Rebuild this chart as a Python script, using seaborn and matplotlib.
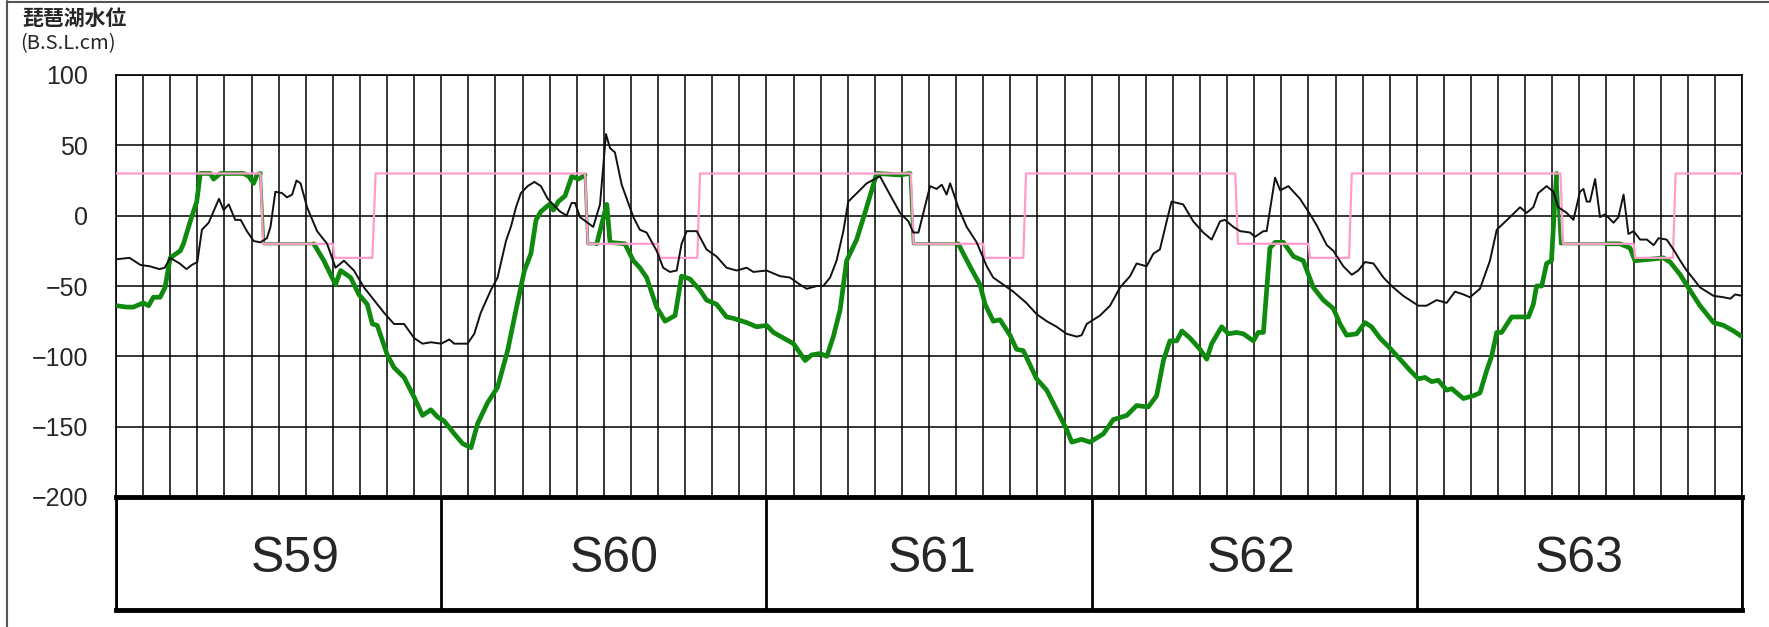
import numpy as np
import pandas as pd
import matplotlib.pyplot as plt
import seaborn as sns
from matplotlib.lines import Line2D

# years shown in the band under the chart (Showa 59-63), 12 months each
years = ["S59", "S60", "S61", "S62", "S63"]
year_label_shift = [0.6, 0.4, 0.1, -0.1, 0.0]
ytick_values = [100, 50, 0, -50, -100, -150, -200]

# thin black line (month position from Jan S59, level in cm)
black_month = [0.0, 0.5, 0.9, 1.25, 1.6, 1.8, 2.0, 2.35, 2.6, 2.8, 3.0, 3.17, 3.42, 3.6, 3.8, 3.97,
               4.16, 4.4, 4.6, 4.83, 5.08, 5.33, 5.57, 5.7, 5.88, 6.13, 6.31, 6.5, 6.66, 6.81, 7.05,
               7.42, 7.79, 8.1, 8.41, 8.78, 9.15, 9.52, 9.89, 10.26, 10.63, 11.0, 11.31, 11.62, 12.0,
               12.3, 12.48, 12.97, 13.22, 13.46, 13.83, 14.08, 14.39, 14.57, 14.76, 14.94, 15.19,
               15.44, 15.68, 15.93, 16.38, 16.63, 16.81, 16.94, 17.12, 17.61, 17.86, 18.08, 18.23,
               18.41, 18.66, 19.09, 19.33, 19.58, 19.95, 20.19, 20.44, 20.69, 20.87, 21.06, 21.43,
               21.79, 22.16, 22.53, 22.9, 23.27, 23.52, 24.01, 24.5, 24.87, 25.24, 25.49, 25.86,
               26.1, 26.35, 26.59, 26.84, 27.02, 27.39, 27.7, 28.19, 28.5, 28.93, 29.24, 29.42,
               29.61, 30.04, 30.28, 30.47, 30.65, 30.78, 31.08, 31.39, 31.76, 32.13, 32.37, 32.74,
               33.11, 33.59, 33.97, 34.34, 34.71, 35.08, 35.45, 35.63, 35.82, 36.31, 36.68, 37.05,
               37.42, 37.66, 38.03, 38.28, 38.52, 38.77, 38.95, 39.38, 39.75, 40.12, 40.43, 40.74,
               40.92, 41.23, 41.48, 41.85, 42.03, 42.34, 42.46, 42.77, 42.96, 43.26, 43.69, 44.06,
               44.31, 44.68, 44.92, 45.29, 45.6, 45.84, 46.09, 46.4, 46.77, 47.07, 47.5, 48.06,
               48.36, 48.73, 49.1, 49.41, 49.72, 49.96, 50.33, 50.7, 50.95, 51.44, 51.81, 52.05,
               52.3, 52.48, 52.79, 53.04, 53.22, 53.53, 53.78, 54.02, 54.15, 54.27, 54.39, 54.58,
               54.76, 54.95, 55.26, 55.44, 55.63, 55.81, 56.0, 56.24, 56.49, 56.74, 56.92, 57.22,
               57.47, 57.72, 57.96, 58.21, 58.45, 58.95, 59.32, 59.57, 59.75, 60.0]
black_level = [-31, -30, -35, -36, -38, -37, -30, -34, -38, -35, -33, -10, -5, 3, 12, 4,
               8, -3, -3, -11, -18, -19, -16, -8, 17, 16, 13, 15, 25, 23, 6,
               -11, -20, -37, -32, -39, -51, -60, -69, -77, -77, -87, -91, -90, -91,
               -88, -91, -91, -84, -69, -53, -44, -18, -8, 6, 16, 21,
               24, 21, 12, 3, 0, 9, 9, -1, -8, 8, 58, 48,
               45, 22, -1, -10, -12, -25, -37, -40, -39, -20, -11, -11,
               -24, -29, -37, -39, -37, -40, -39, -43, -44, -49, -52, -50,
               -50, -44, -32, -11, 10, 17, 23, 28, 17, 2, -4, -12,
               -12, 21, 19, 22, 15, 23, 6, -8, -19, -36, -44, -49,
               -54, -62, -70, -75, -79, -84, -86, -85, -77, -71, -64, -51,
               -43, -34, -36, -27, -24, -4, 10, 8, -4, -12, -17, -4,
               -3, -8, -11, -12, -15, -11, -11, 27, 18, 21, 12, 1,
               -7, -21, -25, -36, -42, -39, -33, -34, -44, -50, -57, -64,
               -64, -60, -62, -54, -56, -58, -52, -32, -10, -1, 6, 2,
               6, 16, 21, 17, 6, 2, -3, 17, 19, 10, 10, 26,
               -1, 1, -5, -1, 15, -13, -11, -17, -17, -21, -16, -17,
               -24, -32, -39, -45, -51, -57, -58, -59, -56, -57]

# thick green line
green_month = [0.02, 0.39, 0.64, 1.01, 1.2, 1.38, 1.63, 1.81, 2.0, 2.37, 2.49, 2.74, 2.98, 3.11,
               3.48, 3.6, 3.85, 4.71, 4.9, 5.08, 5.2, 5.33, 5.45, 7.3, 7.67, 8.1, 8.29, 8.66,
               8.96, 9.27, 9.46, 9.64, 10.01, 10.26, 10.63, 11.0, 11.31, 11.62, 11.86, 12.11,
               12.48, 12.79, 13.1, 13.34, 13.71, 14.08, 14.45, 14.76, 15.07, 15.31, 15.5, 15.68,
               15.99, 16.14, 16.32, 16.57, 16.82, 17.06, 17.24, 17.31, 17.41, 17.74, 18.11, 18.23,
               18.78, 19.09, 19.33, 19.58, 19.95, 20.26, 20.63, 20.87, 21.18, 21.55, 21.79, 22.16,
               22.53, 22.78, 23.27, 23.64, 24.01, 24.26, 24.63, 25.0, 25.43, 25.67, 25.98, 26.23,
               26.47, 26.72, 26.96, 27.33, 27.7, 28.07, 28.93, 29.3, 29.42, 31.08, 31.51, 31.88,
               32.07, 32.37, 32.62, 32.99, 33.23, 33.48, 33.97, 34.34, 34.71, 35.08, 35.27, 35.63,
               35.94, 36.44, 36.8, 37.3, 37.66, 38.09, 38.4, 38.65, 38.89, 39.14, 39.33, 39.63,
               40.0, 40.25, 40.43, 40.8, 41.05, 41.35, 41.6, 41.97, 42.15, 42.34, 42.58, 42.77,
               43.08, 43.45, 43.81, 44.18, 44.55, 44.92, 45.17, 45.41, 45.78, 46.09, 46.33, 46.64,
               46.95, 47.38, 47.75, 48.06, 48.3, 48.55, 48.79, 49.1, 49.29, 49.72, 50.09, 50.33,
               50.58, 50.76, 50.95, 51.13, 51.5, 51.81, 52.12, 52.3, 52.42, 52.61, 52.79, 52.97,
               53.06, 53.16, 53.3, 55.0, 55.5, 55.87, 56.05, 56.61, 57.1, 57.35, 57.72, 58.08,
               58.45, 58.95, 59.32, 59.69, 60.0]
green_level = [-64, -65, -65, -62, -64, -58, -58, -51, -30, -25, -20, -4, 10, 30,
               30, 26, 30, 30, 28, 23, 29, 30, -20, -20, -32, -49, -39, -44,
               -56, -63, -77, -78, -99, -108, -115, -129, -142, -138, -143, -146,
               -155, -162, -165, -148, -133, -122, -96, -67, -39, -27, -3, 3,
               8, 4, 10, 14, 28, 26, 28, 29, -20, -20, 8, -19,
               -20, -32, -37, -44, -65, -75, -71, -43, -45, -53, -60, -63,
               -72, -73, -76, -79, -78, -83, -87, -91, -103, -99, -98, -100,
               -86, -67, -32, -17, 6, 30, 29, 30, -20, -20, -36, -49,
               -63, -75, -74, -85, -95, -96, -116, -124, -138, -152, -161, -159,
               -161, -155, -145, -142, -135, -136, -128, -103, -89, -89, -82, -87,
               -95, -102, -91, -79, -84, -83, -84, -89, -83, -83, -23, -19,
               -19, -29, -32, -51, -60, -66, -77, -85, -84, -76, -79, -87,
               -93, -102, -110, -116, -115, -118, -117, -124, -123, -130, -128, -126,
               -110, -100, -83, -83, -72, -72, -72, -63, -50, -50, -34, -32,
               -1, 30, -20, -20, -20, -23, -32, -31, -30, -33, -42, -53,
               -64, -76, -78, -82, -86]
# stretches where the green line only follows the limit (drawn thin)
green_thin_spans = [(5.33, 7.3), (17.31, 17.74), (29.3, 31.08), (53.16, 55.0)]

# pink limit line
limit_month = [0, 5.33, 5.43, 8.0, 8.06, 9.46, 9.58,
               17.31, 17.41, 20.0, 20.06, 21.45, 21.55,
               29.33, 29.43, 32.0, 32.06, 33.48, 33.58,
               41.3, 41.4, 44.0, 44.06, 45.5, 45.6,
               53.3, 53.4, 56.0, 56.06, 57.45, 57.55, 60]
limit_level = [30, 30, -20, -20, -30, -30, 30,
               30, -20, -20, -30, -30, 30,
               30, -20, -20, -30, -30, 30,
               30, -20, -20, -30, -30, 30,
               30, -20, -20, -30, -30, 30, 30]

sns.set_style("white")
plt.rcParams["font.family"] = ["Liberation Sans", "DejaVu Sans"]

W, H = 1769, 627
fig = plt.figure(figsize=(W / 100, H / 100), dpi=100)
ax = fig.add_axes([116 / W, 1 - 497 / H, (1742 - 116) / W, (497 - 75) / H])

green = pd.DataFrame({"month": green_month, "level": green_level})
inside = np.zeros(len(green), dtype=bool)
for a, b in green_thin_spans:
    inside |= (green["month"] > a) & (green["month"] < b)
green["seg"] = np.cumsum(inside)
thick = green[~inside]

sns.lineplot(data=green, x="month", y="level", color="#1a8a1a", lw=2.2,
             estimator=None, sort=False, ax=ax, zorder=3)
sns.lineplot(data=thick, x="month", y="level", units="seg", color="#0f8a0f", lw=3.4,
             estimator=None, sort=False, ax=ax, zorder=4, legend=False)
sns.lineplot(x=limit_month, y=limit_level, color="#ff9ccc", lw=1.6,
             estimator=None, sort=False, ax=ax, zorder=5)
sns.lineplot(x=black_month, y=black_level, color="#111111", lw=1.4,
             estimator=None, sort=False, ax=ax, zorder=6)

ax.set_xlim(0, 60)
ax.set_ylim(-200, 100)
ax.set_xticks(np.arange(0, 61))
ax.set_yticks(ytick_values)
ax.set_yticklabels([str(v).replace("-", "\u2212") for v in ytick_values],
                   fontsize=18, family=["Liberation Sans Narrow", "Liberation Sans"])
ax.grid(True, color="black", lw=1.1)
ax.tick_params(axis="x", length=0, labelbottom=False)
ax.tick_params(axis="y", length=0, pad=20)
ax.set_xlabel("")
ax.set_ylabel("")
for s in ax.spines.values():
    s.set_color("black")
    s.set_linewidth(1.2)

# year band
band = fig.add_axes([116 / W, 1 - 610 / H, (1742 - 116) / W, 113 / H])
band.set_xlim(0, 60)
band.set_ylim(0, 1)
band.set_xticks([])
band.set_yticks([])
for i in range(len(years) + 1):
    band.axvline(12 * i, color="black", lw=2)
for i, name in enumerate(years):
    band.text(12 * i + 6 + year_label_shift[i], 0.45, name, ha="center", va="center",
              fontsize=36)
for side in ["top", "bottom"]:
    band.spines[side].set_linewidth(3.5)
for side in ["left", "right"]:
    band.spines[side].set_linewidth(2)
for s in band.spines.values():
    s.set_color("black")

fig.text(22 / W, 1 - 8 / H, "琵琶湖水位", ha="left", va="top", fontsize=15,
         fontweight="bold", family=["Noto Sans CJK JP", "DejaVu Sans"])
fig.text(20 / W, 1 - 33 / H, "(B.S.L.cm)", ha="left", va="top", fontsize=14.5,
         family=["Noto Sans CJK JP", "DejaVu Sans"])

# outer frame of the original sheet
fig.add_artist(Line2D([7 / W, 7 / W], [0, 1 - 1 / H], color="#555555", lw=1.5))
fig.add_artist(Line2D([7 / W, 1], [1 - 1.5 / H, 1 - 1.5 / H], color="#555555", lw=1.5))

fig.savefig("out.png", dpi=100, facecolor="white")
